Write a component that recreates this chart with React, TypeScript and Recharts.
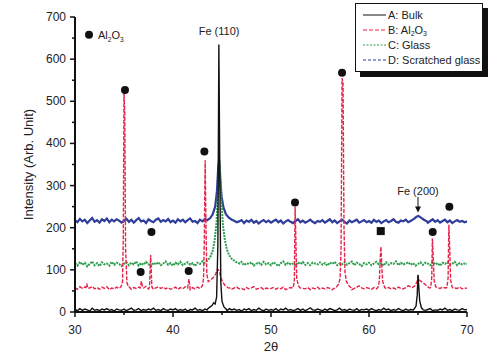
import React from 'react';
import {
  ComposedChart,
  Line,
  Scatter,
  XAxis,
  YAxis,
  ReferenceDot,
  ReferenceLine,
} from 'recharts';

const FONT = '"Liberation Sans", Arial, sans-serif';

// 2θ grid of the scan, 30..70 every 0.25
const grid = Array.from({ length: 161 }, (_, i) => 30 + i * 0.25);

// background (noise), one value per grid step
const aBase = [
  6, 3, 8, 4, 7, 5, 2, 9, 4, 6, 3, 7, 5, 8, 4, 6, 2, 7, 5, 4,
  7, 3, 6, 9, 4, 5, 8, 3, 6, 4, 7, 5, 9, 4, 6, 3, 8, 5, 4, 7,
  5, 8, 3, 6, 4, 7, 2, 6, 5, 9, 4, 6, 3, 7, 5, 8, 4, 6, 5, 7,
  4, 6, 3, 8, 5, 7, 4, 6, 2, 7, 5, 8, 3, 6, 4, 9, 5, 3, 7, 4,
  6, 4, 8, 3, 7, 5, 9, 4, 6, 3, 5, 8, 4, 7, 3, 6, 10, 5, 4, 7,
  5, 3, 7, 4, 8, 6, 3, 5, 9, 4, 6, 3, 7, 5, 4, 8, 3, 6, 5, 7,
  4, 8, 5, 3, 6, 4, 9, 5, 7, 3, 6, 4, 8, 5, 3, 7, 4, 6, 5, 8,
  5, 3, 7, 4, 6, 8, 3, 5, 4, 7, 5, 9, 4, 6, 3, 7, 5, 4, 8, 5,
  6,
];
const bBase = [
  58, 54, 60, 56, 59, 53, 57, 61, 55, 58, 54, 59, 56, 60, 53, 57, 55, 59, 56, 58,
  57, 55, 60, 54, 58, 56, 59, 53, 57, 61, 55, 58, 54, 57, 60, 56, 59, 55, 58, 54,
  56, 59, 54, 58, 55, 60, 56, 53, 58, 55, 59, 56, 57, 54, 60, 56, 58, 55, 59, 57,
  60, 57, 55, 58, 54, 57, 59, 55, 56, 53, 58, 55, 57, 60, 54, 56, 58, 53, 57, 55,
  56, 58, 54, 57, 55, 59, 53, 56, 58, 55, 57, 54, 59, 56, 55, 58, 53, 57, 55, 59,
  54, 57, 55, 58, 56, 53, 57, 59, 54, 56, 58, 55, 57, 53, 56, 59, 62, 57, 55, 58,
  56, 54, 58, 55, 57, 59, 53, 56, 58, 55, 57, 54, 59, 56, 55, 58, 62, 60, 57, 59,
  60, 58, 62, 59, 61, 57, 60, 62, 58, 56, 59, 57, 55, 58, 54, 57, 56, 59, 55, 57,
  56,
];
const cBase = [
  116, 110, 119, 112, 117, 108, 114, 120, 111, 116, 109, 118, 113, 115, 110, 119, 112, 117, 114, 109,
  115, 118, 111, 117, 113, 120, 110, 116, 112, 119, 114, 108, 117, 113, 118, 111, 115, 120, 112, 116,
  110, 117, 113, 119, 111, 115, 118, 112, 116, 109, 117, 114, 120, 112, 116, 113, 118, 111, 115, 117,
  120, 116, 112, 118, 114, 110, 117, 113, 119, 111, 116, 114, 118, 110, 115, 117, 112, 119, 113, 116,
  111, 118, 114, 109, 116, 120, 112, 117, 113, 115, 110, 118, 114, 119, 112, 116, 111, 117, 115, 113,
  118, 112, 116, 110, 117, 114, 119, 111, 115, 113, 118, 112, 116, 120, 111, 117, 114, 109, 116, 113,
  117, 111, 115, 119, 113, 116, 110, 118, 112, 116, 114, 120, 111, 117, 113, 115, 118, 112, 116, 110,
  114, 118, 112, 117, 115, 111, 119, 113, 116, 110, 117, 114, 118, 112, 115, 119, 111, 116, 113, 115,
  114,
];
const dBase = [
  218, 213, 221, 215, 219, 211, 217, 223, 214, 218, 212, 220, 216, 222, 213, 219, 215, 220, 217, 212,
  216, 221, 214, 219, 212, 218, 223, 215, 217, 211, 220, 216, 213, 219, 222, 214, 218, 215, 221, 213,
  217, 212, 220, 215, 219, 213, 218, 222, 214, 216, 211, 219, 215, 221, 213, 217, 220, 214, 218, 216,
  219, 214, 217, 212, 216, 220, 213, 215, 218, 211, 217, 214, 219, 212, 216, 210, 215, 218, 213, 217,
  212, 216, 219, 213, 217, 210, 215, 218, 214, 211, 216, 220, 213, 217, 212, 215, 219, 214, 211, 216,
  214, 218, 212, 216, 220, 213, 217, 211, 215, 219, 214, 210, 217, 213, 216, 219, 212, 215, 218, 213,
  216, 212, 219, 214, 217, 211, 215, 218, 213, 216, 220, 214, 212, 217, 215, 219, 213, 216, 211, 218,
  215, 219, 213, 217, 212, 216, 220, 214, 218, 212, 216, 219, 213, 217, 211, 215, 218, 214, 216, 213,
  215,
];

// reflections, [2θ, intensity]
const aPeaks: [number, number][][] = [
  [[43.6, 9], [43.8, 12], [44.0, 16], [44.15, 22], [44.3, 19], [44.45, 35], [44.58, 160], [44.68, 635], [44.78, 320], [44.88, 70], [45.0, 25], [45.2, 12], [45.45, 6]],
  [[64.6, 7], [64.8, 14], [64.92, 40], [65.0, 88], [65.08, 60], [65.18, 25], [65.35, 10], [65.55, 5]],
];
const bPeaks: [number, number][][] = [
  [[31.1, 58], [31.2, 67], [31.3, 57]],
  [[34.7, 60], [34.85, 72], [34.93, 180], [35.0, 520], [35.08, 470], [35.16, 150], [35.3, 70], [35.45, 60]],
  [[36.65, 57], [36.78, 73], [36.9, 58]],
  [[37.6, 58], [37.72, 135], [37.84, 60]],
  [[41.5, 57], [41.62, 78], [41.74, 58]],
  [[43.0, 62], [43.12, 80], [43.2, 180], [43.28, 360], [43.36, 210], [43.45, 90], [43.6, 72], [43.85, 76], [44.1, 82], [44.35, 90], [44.55, 102], [44.7, 98], [44.85, 85], [45.05, 72], [45.3, 63], [45.6, 58], [45.9, 56]],
  [[52.25, 57], [52.38, 72], [52.46, 250], [52.54, 170], [52.62, 80], [52.8, 62], [53.0, 57]],
  [[56.7, 60], [56.9, 66], [57.05, 80], [57.15, 150], [57.25, 555], [57.35, 545], [57.45, 200], [57.55, 95], [57.7, 72], [57.95, 62], [58.2, 57]],
  [[60.9, 58], [61.05, 72], [61.15, 130], [61.22, 155], [61.3, 110], [61.4, 72], [61.6, 58]],
  [[64.45, 58], [64.7, 63], [64.9, 72], [65.0, 84], [65.15, 76], [65.35, 72], [65.6, 68], [65.85, 63], [66.1, 58]],
  [[66.3, 60], [66.4, 80], [66.47, 175], [66.55, 130], [66.65, 75], [66.8, 60]],
  [[67.95, 58], [68.07, 80], [68.15, 207], [68.24, 150], [68.33, 75], [68.5, 58]],
];
const cPeaks: [number, number][][] = [
  [[43.2, 116], [43.5, 122], [43.8, 130], [44.05, 145], [44.25, 170], [44.45, 215], [44.6, 290], [44.72, 365], [44.82, 330], [44.95, 260], [45.1, 205], [45.3, 170], [45.5, 148], [45.75, 134], [46.0, 126], [46.4, 119], [46.8, 115]],
];
const dPeaks: [number, number][][] = [
  [[43.5, 218], [43.8, 223], [44.05, 232], [44.3, 250], [44.48, 285], [44.62, 345], [44.7, 358], [44.8, 320], [44.95, 275], [45.15, 248], [45.4, 232], [45.7, 224], [46.0, 219], [46.3, 216]],
  [[64.3, 217], [64.6, 221], [64.85, 226], [65.05, 228], [65.3, 224], [65.6, 219], [65.9, 215]],
];

// Al2O3 (circles) and unknown (square) markers
const al2o3Marks = [
  { x: 35.1, y: 527 }, { x: 36.7, y: 95 }, { x: 37.8, y: 190 }, { x: 41.6, y: 97 },
  { x: 43.2, y: 381 }, { x: 52.45, y: 260 }, { x: 57.25, y: 568 }, { x: 66.5, y: 190 },
  { x: 68.2, y: 250 },
];
const squareMarks = [{ x: 61.2, y: 192 }];

const xTicks = [30, 35, 40, 45, 50, 55, 60, 65, 70];
const yTicks = [0, 50, 100, 150, 200, 250, 300, 350, 400, 450, 500, 550, 600, 650, 700];

const buildSeries = (base: number[], peaks: [number, number][][]) => {
  const kept = base
    .map((y, i) => ({ x: grid[i], y }))
    .filter(p => !peaks.some(pk => p.x >= pk[0][0] && p.x <= pk[pk.length - 1][0]));
  const extra = peaks.flat().map(([x, y]) => ({ x, y }));
  return [...kept, ...extra].sort((a, b) => a.x - b.x);
};

const seriesA = buildSeries(aBase, aPeaks);
const seriesB = buildSeries(bBase, bPeaks);
const seriesC = buildSeries(cBase, cPeaks);
const seriesD = buildSeries(dBase, dPeaks);

const YTick = (props: any) => {
  const { x, y, payload } = props;
  const major = payload.value % 100 === 0;
  return (
    <g>
      <line x1={x} x2={x - (major ? 5 : 3)} y1={y} y2={y} stroke="#111" strokeWidth={1.5} />
      {major && (
        <text x={x - 9} y={y} textAnchor="end" dominantBaseline="central" fontSize={12} fill="#222" fontFamily={FONT}>
          {payload.value}
        </text>
      )}
    </g>
  );
};

const XTick = (props: any) => {
  const { x, y, payload } = props;
  const major = payload.value % 10 === 0;
  return (
    <g>
      <line x1={x} x2={x} y1={y} y2={y + (major ? 5 : 3)} stroke="#111" strokeWidth={1.5} />
      {major && (
        <text x={x} y={y + 18} textAnchor="middle" dominantBaseline="central" fontSize={12} fill="#222" fontFamily={FONT}>
          {payload.value}
        </text>
      )}
    </g>
  );
};

const Dot = (p: any) => <circle cx={p.cx} cy={p.cy} r={4} fill="#111" />;
const Square = (p: any) => <rect x={p.cx - 4} y={p.cy - 4} width={8} height={8} fill="#111" />;

const Al2O3 = ({ x, y, size }: { x: number; y: number; size: number }) => (
  <text x={x} y={y} fontSize={size} fill="#222" fontFamily={FONT} dominantBaseline="central">
    Al<tspan fontSize={size * 0.6} dy={4}>2</tspan>
    <tspan dy={-4}>O</tspan>
    <tspan fontSize={size * 0.6} dy={4}>3</tspan>
  </text>
);

const Legend = () => {
  const rows = [
    { label: 'A: Bulk', color: '#111', dash: undefined },
    { label: 'B', color: '#e5234a', dash: '4 2' },
    { label: 'C: Glass', color: '#2e9e4f', dash: '2 1.5' },
    { label: 'D: Scratched glass', color: '#2f3d9c', dash: '3 2' },
  ];
  return (
    <div
      style={{
        position: 'absolute',
        left: 355,
        top: 3,
        width: 126,
        height: 67,
        background: '#fff',
        border: '1px solid #111',
        boxShadow: '5px 5px 0 #111',
      }}
    >
      <svg width={126} height={67}>
        {rows.map((r, i) => {
          const cy = 11 + i * 15;
          return (
            <g key={i}>
              <line x1={7} x2={30} y1={cy} y2={cy} stroke={r.color} strokeWidth={1} strokeDasharray={r.dash} />
              {r.label === 'B' ? (
                <text x={32} y={cy} fontSize={11} fill="#222" fontFamily={FONT} dominantBaseline="central">
                  B: Al<tspan fontSize={7} dy={3}>2</tspan>
                  <tspan dy={-3}>O</tspan>
                  <tspan fontSize={7} dy={3}>3</tspan>
                </text>
              ) : (
                <text x={32} y={cy} fontSize={11} fill="#222" fontFamily={FONT} dominantBaseline="central">
                  {r.label}
                </text>
              )}
            </g>
          );
        })}
      </svg>
    </div>
  );
};

const App: React.FC = () => {
  return (
    <div style={{ position: 'absolute', left: 0, top: 0, width: 500, height: 356, background: '#fff' }}>
      <ComposedChart width={500} height={356} margin={{ top: 17, right: 33, left: 0, bottom: 0 }}>
        <XAxis
          dataKey="x"
          type="number"
          domain={[30, 70]}
          ticks={xTicks}
          interval={0}
          height={44}
          tickSize={0}
          tickMargin={0}
          tickLine={false}
          tick={<XTick />}
          axisLine={{ stroke: '#111', strokeWidth: 2 }}
          label={{ value: '2θ', position: 'insideBottom', offset: 5, fontSize: 13, fill: '#222', fontFamily: FONT }}
        />
        <XAxis
          xAxisId="top"
          orientation="top"
          type="number"
          domain={[30, 70]}
          height={0}
          tick={false}
          tickLine={false}
          axisLine={{ stroke: '#111', strokeWidth: 2 }}
        />
        <YAxis
          type="number"
          domain={[0, 700]}
          ticks={yTicks}
          interval={0}
          width={75}
          tickSize={0}
          tickMargin={0}
          tickLine={false}
          tick={<YTick />}
          axisLine={{ stroke: '#111', strokeWidth: 2 }}
          label={{
            value: 'Intensity (Arb. Unit)',
            angle: -90,
            position: 'insideLeft',
            offset: 28,
            fontSize: 13,
            fill: '#222',
            fontFamily: FONT,
            style: { textAnchor: 'middle' },
          }}
        />
        <YAxis
          yAxisId="right"
          orientation="right"
          type="number"
          domain={[0, 700]}
          width={0}
          tick={false}
          tickLine={false}
          axisLine={{ stroke: '#111', strokeWidth: 2 }}
        />

        <Line data={seriesD} dataKey="y" stroke="#2f3d9c" strokeWidth={2.2} dot={false} isAnimationActive={false} />
        <Line data={seriesC} dataKey="y" stroke="#2e9e4f" strokeWidth={2} strokeDasharray="2 1" dot={false} isAnimationActive={false} />
        <Line data={seriesB} dataKey="y" stroke="#e5234a" strokeWidth={1.4} strokeDasharray="4 1.5" dot={false} isAnimationActive={false} />
        <Line data={seriesA} dataKey="y" stroke="#111" strokeWidth={1.4} dot={false} isAnimationActive={false} />

        <Scatter data={al2o3Marks} dataKey="y" shape={<Dot />} isAnimationActive={false} />
        <Scatter data={squareMarks} dataKey="y" shape={<Square />} isAnimationActive={false} />

        <ReferenceDot
          x={31.43}
          y={658}
          r={0}
          shape={(p: any) => (
            <g>
              <circle cx={p.cx} cy={p.cy} r={4} fill="#111" />
              <Al2O3 x={p.cx + 9} y={p.cy} size={11} />
            </g>
          )}
        />
        <ReferenceDot
          x={44.7}
          y={667}
          r={0}
          shape={(p: any) => (
            <text x={p.cx} y={p.cy} textAnchor="middle" dominantBaseline="central" fontSize={11} fill="#222" fontFamily={FONT}>
              Fe (110)
            </text>
          )}
        />
        <ReferenceDot
          x={65.0}
          y={287}
          r={0}
          shape={(p: any) => (
            <text x={p.cx} y={p.cy} textAnchor="middle" dominantBaseline="central" fontSize={11} fill="#222" fontFamily={FONT}>
              Fe (200)
            </text>
          )}
        />
        <ReferenceLine segment={[{ x: 65.0, y: 273 }, { x: 65.0, y: 240 }]} stroke="#111" strokeWidth={1} />
        <ReferenceDot
          x={65.0}
          y={236}
          r={0}
          shape={(p: any) => (
            <polygon points={`${p.cx - 3},${p.cy - 6} ${p.cx + 3},${p.cy - 6} ${p.cx},${p.cy}`} fill="#111" />
          )}
        />
      </ComposedChart>
      <Legend />
    </div>
  );
};

export default App;
